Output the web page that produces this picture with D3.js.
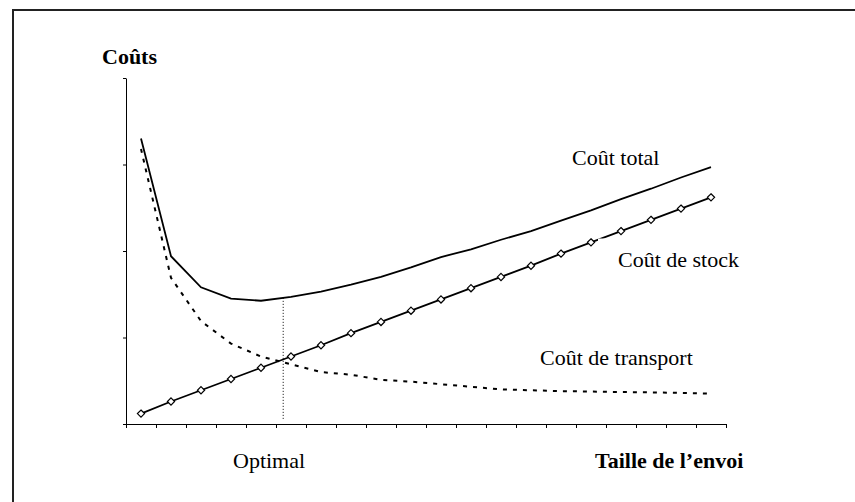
<!DOCTYPE html>
<html>
<head>
<meta charset="utf-8">
<script src="https://cdn.jsdelivr.net/npm/d3@7"></script>
<style>
  html, body { margin: 0; padding: 0; background: #fff; }
  svg { display: block; }
  text { font-family: "Liberation Serif", "Times New Roman", serif; fill: #000; }
</style>
</head>
<body>
<svg id="chart" width="855" height="502"></svg>
<script>
// ---- data ----
const categories = [1,2,3,4,5,6,7,8,9,10,11,12,13,14,15,16,17,18,19,20];
const stockCost = [0.12,0.26,0.39,0.52,0.65,0.78,0.91,1.05,1.18,1.31,1.44,1.57,1.70,1.83,1.97,2.10,2.23,2.36,2.49,2.62];
const transportCost = [3.18,1.69,1.19,0.93,0.78,0.69,0.60,0.57,0.51,0.49,0.46,0.43,0.40,0.39,0.38,0.375,0.37,0.365,0.36,0.35];
const totalCost = [3.30,1.94,1.58,1.45,1.425,1.47,1.53,1.61,1.70,1.81,1.93,2.02,2.13,2.23,2.35,2.47,2.60,2.72,2.85,2.97];
const yTicks = [0,1,2,3,4];
const optimalSize = 5.24; // position on the shipment-size axis (0..20)
const labels = {
  yTitle: "Coûts",
  xTitle: "Taille de l’envoi",
  optimal: "Optimal",
  total: "Coût total",
  stock: "Coût de stock",
  transport: "Coût de transport"
};

// ---- layout ----
const svg = d3.select("#chart");
const x0 = 126, x1 = 726, yBottom = 424, yTop = 78;

const xSize = d3.scaleLinear().domain([0, categories.length]).range([x0, x1]);
const xBand = d3.scaleBand().domain(categories).range([x0, x1]).padding(0);
const y = d3.scaleLinear().domain([0, 4]).range([yBottom, yTop]);
const cx = c => xBand(c) + xBand.bandwidth() / 2;

// outer frame (extends past right/bottom edge)
svg.append("path")
  .attr("d", "M13,900 L13,10 L900,10")
  .attr("fill", "none").attr("stroke", "#222").attr("stroke-width", 2);

// axes
const yAxis = d3.axisLeft(y).tickValues(yTicks).tickSize(3).tickSizeOuter(0).tickFormat("");
svg.append("g").attr("transform", `translate(${x0},0)`).call(yAxis)
  .call(g => g.selectAll("path,line").attr("stroke", "#000").attr("stroke-width", 1));

const xAxis = d3.axisBottom(xSize).tickValues(d3.range(0, categories.length + 1)).tickSize(4).tickSizeOuter(0).tickFormat("");
svg.append("g").attr("transform", `translate(0,${yBottom})`).call(xAxis)
  .call(g => g.selectAll("path,line").attr("stroke", "#000").attr("stroke-width", 1));

// line generator
const line = d3.line().x((d, i) => cx(categories[i])).y(d => y(d));

// transport cost (dashed)
svg.append("path").datum(transportCost)
  .attr("d", line).attr("fill", "none").attr("stroke", "#000")
  .attr("stroke-width", 2).attr("stroke-dasharray", "4,6");

// total cost
svg.append("path").datum(totalCost)
  .attr("d", line).attr("fill", "none").attr("stroke", "#000")
  .attr("stroke-width", 1.8);

// stock cost with diamond markers
svg.append("path").datum(stockCost)
  .attr("d", line).attr("fill", "none").attr("stroke", "#000")
  .attr("stroke-width", 1.8);
svg.append("g").selectAll("path").data(stockCost).join("path")
  .attr("d", "M0,-3.6L3.6,0L0,3.6L-3.6,0Z")
  .attr("transform", (d, i) => `translate(${cx(categories[i])},${y(d)})`)
  .attr("fill", "#fff").attr("stroke", "#000").attr("stroke-width", 1.2);

// optimal dotted vertical line (from total curve down to axis)
const optIdx = optimalSize - 0.5;
const i0 = Math.floor(optIdx), fr = optIdx - i0;
const optTotal = totalCost[i0] + fr * (totalCost[i0 + 1] - totalCost[i0]);
svg.append("line")
  .attr("x1", xSize(optimalSize)).attr("x2", xSize(optimalSize))
  .attr("y1", y(optTotal)).attr("y2", yBottom - 4)
  .attr("stroke", "#000").attr("stroke-width", 1).attr("stroke-dasharray", "1,2");

// label for stock cost sits on a white box (clips the line slightly)
svg.append("rect").attr("x", 598).attr("y", 238.5).attr("width", 160).attr("height", 36).attr("fill", "#fff");

// texts
svg.append("text").attr("x", 102).attr("y", 64).attr("font-size", 22).attr("font-weight", "bold").text(labels.yTitle);
svg.append("text").attr("x", 572).attr("y", 165).attr("font-size", 22).text(labels.total);
svg.append("text").attr("x", 618).attr("y", 267).attr("font-size", 22).text(labels.stock);
svg.append("text").attr("x", 540).attr("y", 365).attr("font-size", 22).text(labels.transport);
svg.append("text").attr("x", 233).attr("y", 468).attr("font-size", 22).text(labels.optimal);
svg.append("text").attr("x", 595).attr("y", 468).attr("font-size", 22).attr("font-weight", "bold").text(labels.xTitle);
</script>
</body>
</html>
